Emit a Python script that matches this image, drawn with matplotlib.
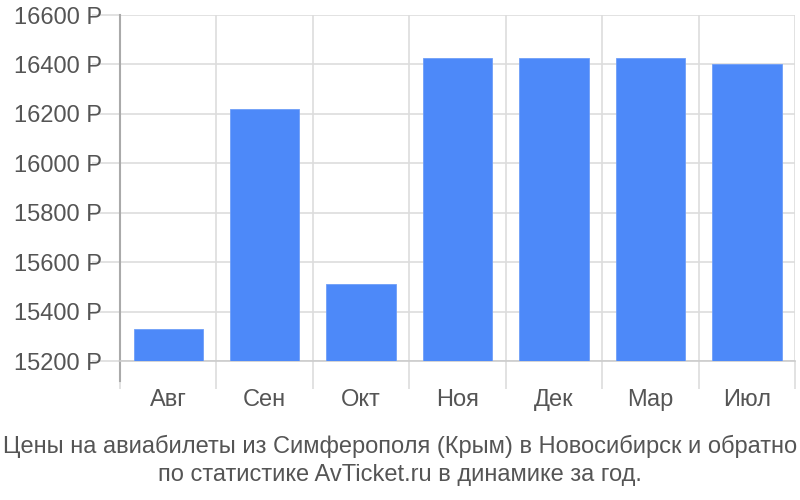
import matplotlib.pyplot as plt
from matplotlib.ticker import FuncFormatter

plt.rcParams['font.family'] = ['Liberation Sans', 'DejaVu Sans']

months = ["Авг", "Сен", "Окт", "Ноя", "Дек", "Мар", "Июл"]
prices = [15330, 16220, 15512, 16425, 16425, 16425, 16402]
y_ticks = [15200, 15400, 15600, 15800, 16000, 16200, 16400, 16600]

text_color = "#555555"
grid_color = "#dddddd"
bar_color = "#4d89f9"

fig = plt.figure(figsize=(8, 5), dpi=100)
ax = fig.add_axes([0.15, 0.278, 0.844, 0.692])

x = list(range(len(months)))
ax.bar(x, prices, width=0.72, color=bar_color, edgecolor="#6f9ef8", linewidth=0.6, zorder=3)

ax.set_xlim(-0.5, len(months) - 0.5)
ax.set_ylim(y_ticks[0], y_ticks[-1])
ax.set_yticks(y_ticks)
ax.yaxis.set_major_formatter(FuncFormatter(lambda v, p: f"{int(v)} Р"))

# category boundaries for vertical grid
ax.set_xticks(x)
ax.set_xticklabels(months)
ax.set_xticks([i - 0.5 for i in range(len(months) + 1)], minor=True)

ax.grid(axis="y", color=grid_color, linewidth=1.2, zorder=0)
ax.grid(axis="x", which="minor", color=grid_color, linewidth=1.2, zorder=0)

for s in ["top", "right"]:
    ax.spines[s].set_visible(False)
ax.spines["left"].set_color("#aaaaaa")
ax.spines["left"].set_linewidth(1.5)
ax.spines["bottom"].set_color("#cccccc")
ax.spines["bottom"].set_linewidth(1.2)

ax.tick_params(axis="y", length=20, width=1.2, color=grid_color, labelsize=17,
               labelcolor=text_color, pad=-7)
ax.tick_params(axis="x", which="major", length=0, labelsize=17, labelcolor=text_color, pad=20)
ax.tick_params(axis="x", which="minor", length=20, width=1.2, color=grid_color)

# left axis extends below
ax.plot([-0.5, -0.5], [0, -0.058], transform=ax.get_xaxis_transform(), color="#aaaaaa", lw=1.5, clip_on=False)

fig.text(0.5, 0.08, "Цены на авиабилеты из Симферополя (Крым) в Новосибирск и обратно\nпо статистике AvTicket.ru в динамике за год.",
         ha="center", va="center", fontsize=17, color=text_color, linespacing=1.35)

fig.savefig("out.png", dpi=100)
